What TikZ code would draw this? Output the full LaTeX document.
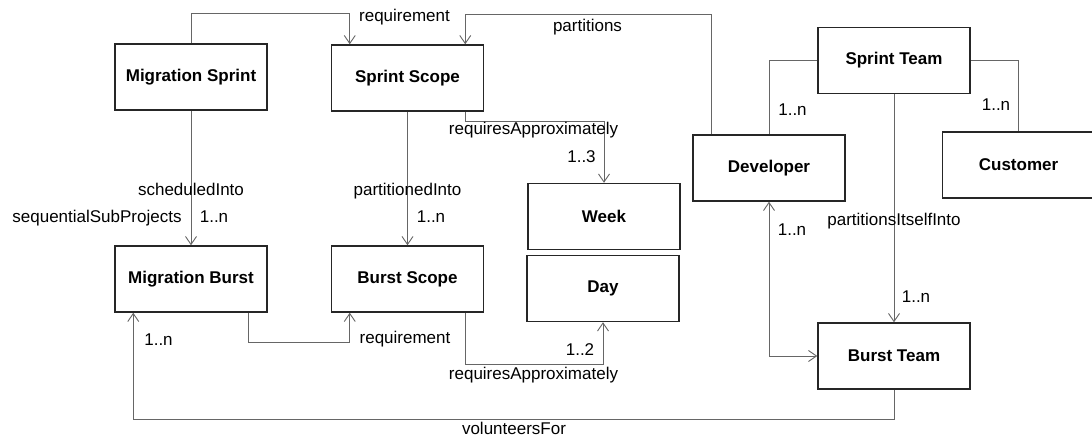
\documentclass[tikz,border=0pt]{standalone}
\usepackage{fontspec}
\setmainfont{Liberation Sans}
\usetikzlibrary{arrows.meta}
\begin{document}
\begin{tikzpicture}[x=1pt,y=-1pt,
  entity/.style={draw=black!85, line width=1.5pt, minimum width=152pt, minimum height=66pt, inner sep=0pt, font=\fontsize{17}{20}\selectfont\bfseries},
  conn/.style={draw=black!60, line width=0.9pt},
  tip/.style={-{Straight Barb[length=8pt,width=11pt]}},
  lbl/.style={inner sep=0pt, text height=12pt, text depth=3.5pt, font=\fontsize{17}{20}\selectfont}]
\useasboundingbox[fill=white] (0,0) rectangle (1092,436);

\node[entity] (ms) at (191,77) {Migration Sprint};
\node[entity] (ss) at (407.5,78) {Sprint Scope};
\node[entity] (mb) at (191,279) {Migration Burst};
\node[entity] (bs) at (407.5,279) {Burst Scope};
\node[entity] (week) at (604,216.5) {Week};
\node[entity] (day) at (603,288.5) {Day};
\node[entity] (dev) at (769,168) {Developer};
\node[entity] (st) at (894,60.5) {Sprint Team};
\node[entity] (cust) at (1018.5,165) {Customer};
\node[entity] (bt) at (894,356) {Burst Team};

\draw[conn,tip] (ms.north) -- ++(0,-30) -| ([xshift=19pt]ss.north west);
\draw[conn,tip] ([xshift=19pt]dev.north west) -- ++(0,-120) -| ([xshift=-19pt]ss.north east);
\draw[conn,tip] ([xshift=-19pt]ss.south east) -- ++(0,10) -| (week.north);
\draw[conn,tip] (ms.south) -- (mb.north);
\draw[conn,tip] (ss.south) -- (bs.north);
\draw[conn,tip] ([xshift=-19pt]mb.south east) -- ++(0,30) -| ([xshift=19pt]bs.south west);
\draw[conn,tip] ([xshift=-19pt]bs.south east) -- ++(0,52) -| (day.south);
\draw[conn,tip] (bt.south) -- ++(0,30) -| ([xshift=19pt]mb.south west);
\draw[conn,tip] (st.south) -- (bt.north);
\draw[conn,{Straight Barb[length=8pt,width=11pt]}-{Straight Barb[length=8pt,width=11pt]}] (dev.south) |- (bt.west);
\draw[conn] (st.west) -| (dev.north);
\draw[conn] (st.east) -| (cust.north);

\node[lbl] (lreqtop) at (404.5,17) {requirement};
\node[lbl] (lpart) at (587.5,27.5) {partitions};
\node[lbl] (lrawk) at (533.5,130) {requiresApproximately};
\node[lbl] (lwk) at (581.5,158) {1..3};
\node[lbl] (lsched) at (191,191) {scheduledInto};
\node[lbl] (lseq) at (97,218) {sequentialSubProjects};
\node[lbl] (lmbn) at (214,218) {1..n};
\node[lbl] (lpinto) at (407.5,191) {partitionedInto};
\node[lbl] (lbsn) at (431,218) {1..n};
\node[lbl] (ldevn) at (792.5,111) {1..n};
\node[lbl] (lcustn) at (996,106) {1..n};
\node[lbl] (lpit) at (894,221) {partitionsItselfInto};
\node[lbl] (ldbn) at (792,231) {1..n};
\node[lbl] (lbtn) at (916,298) {1..n};
\node[lbl] (lday) at (580,351) {1..2};
\node[lbl] (lrady) at (533.5,375) {requiresApproximately};
\node[lbl] (lreqbot) at (405,339) {requirement};
\node[lbl] (lvoln) at (158.5,341) {1..n};
\node[lbl,text depth=0pt] (lvol) at (514,428.5) {volunteersFor};
\end{tikzpicture}
\end{document}
